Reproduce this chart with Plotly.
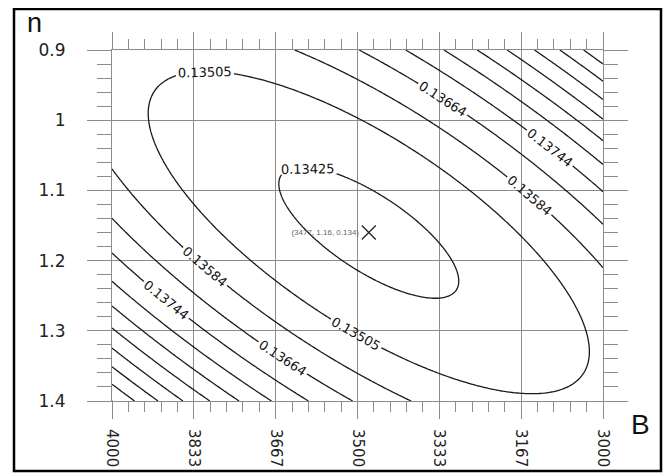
import numpy as np
import plotly.graph_objects as go

# ---- data ----
x_tickvals = [4000, 3833.333, 3666.667, 3500, 3333.333, 3166.667, 3000]
x_ticktext = ["4000", "3833", "3667", "3500", "3333", "3167", "3000"]
y_tickvals = [0.9, 1.0, 1.1, 1.2, 1.3, 1.4]
y_ticktext = ["0.9", "1", "1.1", "1.2", "1.3", "1.4"]

# minimum of the error surface (as labelled in the chart)
min_B = 3477
min_n = 1.16
min_z = 0.134091
min_label = "(3477, 1.16, 0.134)"

# quadratic surface coefficients estimated from the contour shapes
coef_BB = 1.0428e-8
coef_Bn = 3.015e-5
coef_nn = 0.039917

# contour levels shown on the chart
level_start = 0.13425
level_step = 0.0007966
level_end = 0.1440

B = np.linspace(3000, 4000, 241)
n = np.linspace(0.9, 1.4, 241)
BB, NN = np.meshgrid(B, n)
dB = BB - min_B
dn = NN - min_n
Z = min_z + coef_BB * dB**2 + coef_Bn * dB * dn + coef_nn * dn**2

fig = go.Figure()
fig.add_trace(go.Contour(
    x=B, y=n, z=Z,
    contours=dict(start=level_start, end=level_end, size=level_step,
                  coloring="lines", showlabels=True,
                  labelfont=dict(family="DejaVu Sans", size=13, color="#111"),
                  labelformat=".5f"),
    colorscale=[[0, "#1a1a1a"], [1, "#1a1a1a"]],
    showscale=False,
    line=dict(width=1.3),
    hoverinfo="skip",
))
fig.add_trace(go.Scatter(
    x=[min_B], y=[min_n], mode="markers+text",
    marker=dict(symbol="x-thin-open", size=14, color="#222",
                line=dict(width=1.3, color="#222")),
    text=[min_label], textposition="middle left",
    textfont=dict(family="Liberation Sans", size=8, color="#666"),
    showlegend=False, hoverinfo="skip",
))

axis_common = dict(
    showgrid=True, gridcolor="#8c8c8c", gridwidth=1,
    showline=True, linecolor="#8c8c8c", linewidth=1, mirror="ticks",
    ticks="outside", tickcolor="#8c8c8c", tickwidth=1,
    zeroline=False, automargin=False,
)

fig.update_xaxes(
    **axis_common,
    range=[4000, 3000], tickmode="array", tickvals=x_tickvals, ticktext=x_ticktext,
    tickangle=90, ticklen=17, ticklabelstandoff=7,
    tickfont=dict(family="DejaVu Sans", size=15, color="#222"),
    minor=dict(ticks="outside", dtick=1000/30, tick0=3000, ticklen=10,
               tickcolor="#8c8c8c", showgrid=False),
)
fig.update_yaxes(
    **axis_common,
    range=[1.4, 0.9], tickmode="array", tickvals=y_tickvals, ticktext=y_ticktext,
    ticklen=24, ticklabelstandoff=18,
    tickfont=dict(family="DejaVu Sans", size=17, color="#222"),
    minor=dict(ticks="outside", dtick=0.02, tick0=0.9, ticklen=14,
               tickcolor="#8c8c8c", showgrid=False),
)

fig.update_layout(
    width=664, height=465,
    margin=dict(l=104, r=69, t=42, b=72),
    paper_bgcolor="white", plot_bgcolor="white",
    showlegend=False,
    annotations=[
        dict(text="n", xref="paper", yref="paper", x=-0.157, y=1.077,
             xanchor="center", yanchor="middle", showarrow=False,
             font=dict(family="Liberation Sans", size=27, color="#111")),
        dict(text="B", xref="paper", yref="paper", x=1.0754, y=-0.068,
             xanchor="center", yanchor="middle", showarrow=False,
             font=dict(family="Liberation Sans", size=28, color="#111")),
    ],
    shapes=[
        dict(type="rect", xref="paper", yref="paper",
             x0=-0.1996, x1=1.1181, y0=-0.1994, y1=1.1168,
             line=dict(color="black", width=2.5), fillcolor="rgba(0,0,0,0)"),
    ],
)

fig.write_html("out.html")
